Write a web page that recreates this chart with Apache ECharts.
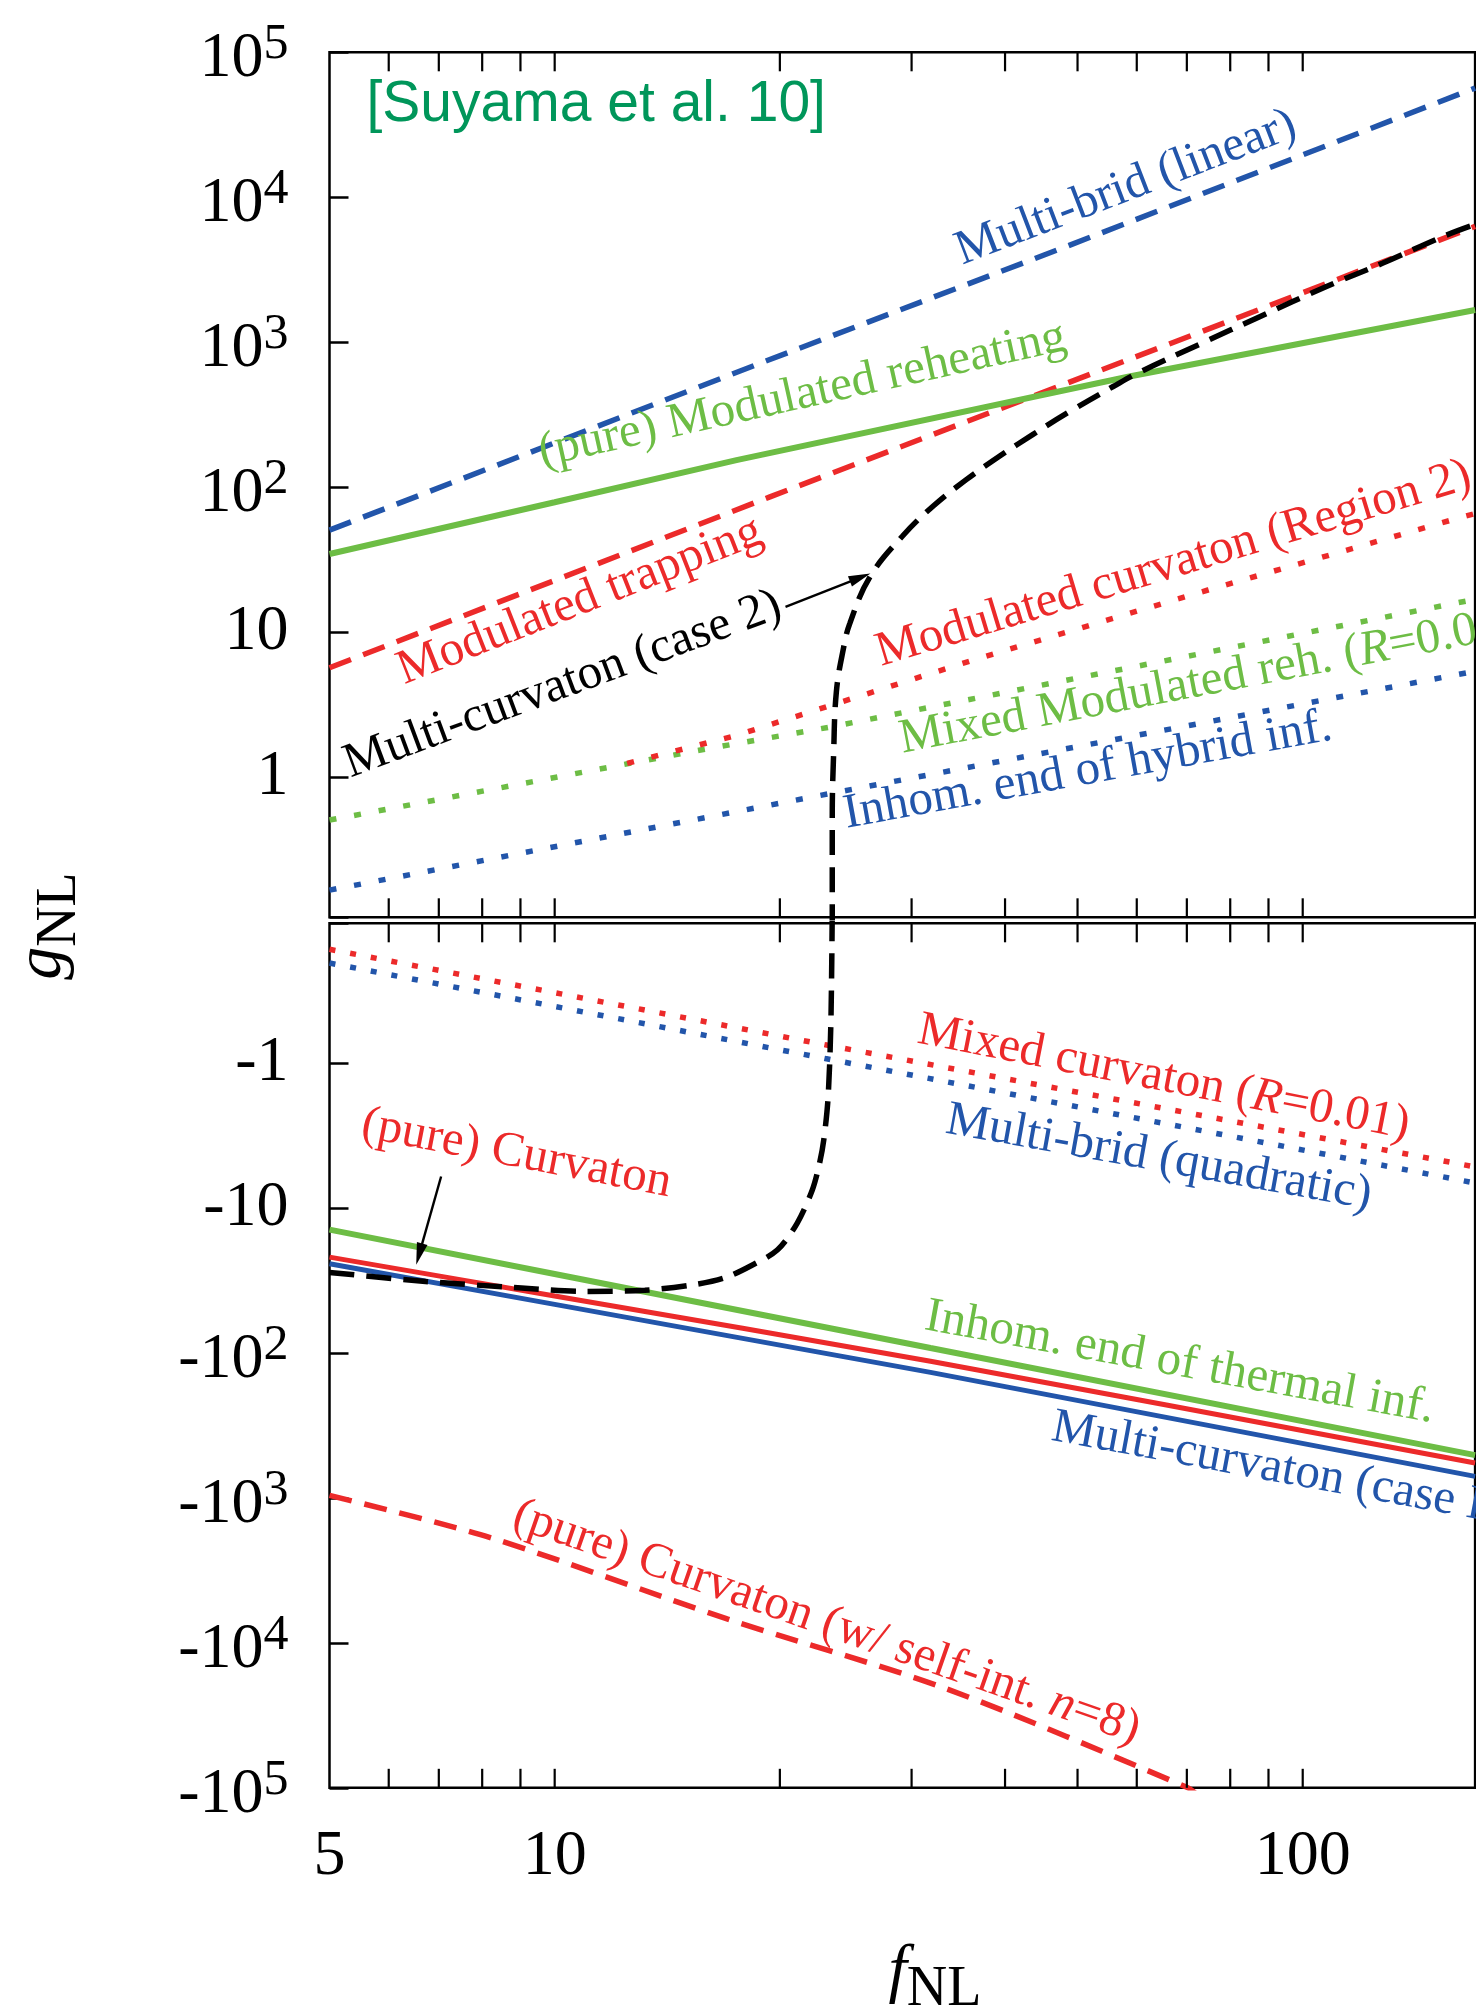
<!DOCTYPE html>
<html><head><meta charset="utf-8">
<script src="https://cdn.jsdelivr.net/npm/echarts@6/dist/echarts.min.js"></script>
<style>html,body{margin:0;padding:0;background:#fff}#chart{width:1476px;height:2016px}</style>
</head><body><div id="chart"></div>
<script>
const BLUE = '#2255aa', RED = '#ec2a2a', GREEN = '#6dbd45', BLACK = '#000000', REFGREEN = '#00965a';
const SERIF = '"Liberation Serif","Times New Roman",serif';
const SANS = '"Liberation Sans",Arial,sans-serif';

// ---------- axes ----------
const xMin = 5, xMax = 170;
const xTickLabelValues = [5, 10, 100];
const xTickLabels = ['5', '10', '100'];
const xTickMarkValues = [6, 7, 8, 9, 10, 20, 30, 40, 50, 60, 70, 80, 90, 100];
const gMin = 0.1085, gMax = 1e5;
const yTickValues = [1, 10, 100, 1000, 10000, 100000];
const upperTickLabels = ['1', '10', '10^2', '10^3', '10^4', '10^5'];
const lowerTickLabels = ['-1', '-10', '-10^2', '-10^3', '-10^4', '-10^5'];

// ---------- upper panel (gNL > 0): [fNL, gNL] ----------
const multiBridLinear = [[5, 50.7], [18.8, 716], [47.6, 4450], [170, 56700]];
const modulatedTrapping = [[5, 5.7], [19.4, 86], [85.9, 1626], [170, 6300]];
const modulatedReheating = [[5, 34.7], [10, 79], [17.5, 154], [58.4, 579], [170, 1670]];
const multiCurvatonCase2Upper = [[23.5, 0.09], [23.5, 0.54], [23.6, 1.46], [23.8, 3.9], [24.3, 7.55], [24.8, 11.5], [26.4, 24.2], [29.2, 46.4], [32.1, 74.7], [35.5, 113], [39.4, 165], [43.6, 232], [48.9, 335], [55.8, 496], [60.1, 612], [73.6, 995], [87.6, 1503], [107.4, 2416], [127.8, 3508], [154.5, 5400], [170, 6500]];
const modCurvatonRegion2 = [[12.5, 1.25], [17.5, 1.95], [36.1, 6.4], [74.7, 19.6], [163.7, 62.7], [170, 66]];
const mixedModReh = [[5, 0.508], [15.6, 1.54], [23.4, 2.23], [159, 15.8], [170, 16.9]];
const inhomHybrid = [[5, 0.167], [23.4, 0.776], [168.5, 5.35], [170, 5.4]];

// ---------- lower panel (gNL < 0): [fNL, gNL] ----------
const mixedCurvaton = [[5, -0.164], [23, -0.748], [170, -5.2]];
const multiBridQuadratic = [[5, -0.204], [23, -0.93], [170, -6.72]];
const pureCurvaton = [[5, -21.8], [10, -40.4], [31.8, -114], [170, -574]];
const inhomThermal = [[5, -14.1], [10, -28.5], [31.8, -92.4], [170, -507]];
const multiCurvatonCase1 = [[5, -24.2], [10, -46.2], [31.8, -136], [170, -710]];
const curvatonSelfInt = [[5, -960], [8.2, -1880], [17, -6840], [33.1, -20400], [70, -99000], [72, -110000]];
const multiCurvatonCase2Lower = [[5, -27.8], [6.72, -32.1], [9.03, -35.6], [10.9, -37.6], [13.2, -36.9], [15.34, -33.8], [16.85, -30.4], [18.3, -25], [19.86, -19.4], [21.1, -12.7], [22.1, -7.5], [22.6, -4.9], [22.9, -3.36], [23.2, -1.73], [23.4, -0.53], [23.5, -0.09]];

// ---------- annotations (anchored in data space) ----------
const annotations = [
  { text: 'Multi-brid (linear)', at: [58.05, 11590], panel: 0, angle: 21, color: BLUE },
  { text: '(pure) Modulated reheating', at: [21.44, 432.5], panel: 0, angle: 12.5, color: GREEN },
  { text: 'Modulated trapping', at: [10.81, 16.4], panel: 0, angle: 21.5, color: RED },
  { text: 'Multi-curvaton (case 2)', at: [10.25, 4.35], panel: 0, angle: 20.4, color: BLACK },
  { text: 'Modulated curvaton (Region 2)', at: [67.2, 29.5], panel: 0, angle: 16.8, color: RED },
  { text: 'Mixed Modulated reh. ({i|R}=0.01)', at: [74.8, 4.6], panel: 0, angle: 10.8, color: GREEN },
  { text: 'Inhom. end of hybrid inf.', at: [51.6, 1.11], panel: 0, angle: 10.3, color: BLUE },
  { text: 'Mixed curvaton ({i|R}=0.01)', at: [65.2, -1.265], panel: 1, angle: -11.1, color: RED },
  { text: 'Multi-brid (quadratic)', at: [64.2, -4.51], panel: 1, angle: -10.2, color: BLUE },
  { text: '(pure) Curvaton', at: [8.89, -4.22], panel: 1, angle: -11, color: RED },
  { text: 'Inhom. end of thermal inf.', at: [68.5, -117.2], panel: 1, angle: -10.4, color: GREEN },
  { text: 'Multi-curvaton (case I)', at: [92.0, -626], panel: 1, angle: -10.5, color: BLUE },
  { text: '(pure) Curvaton (w/ self-int. {i|n}=8)', at: [23.1, -7265], panel: 1, angle: -19.2, color: RED }
];
const arrows = [
  { from: [20.35, 15.0], to: [26.43, 25.5], panel: 0 },
  { from: [7.05, -6.06], to: [6.53, -24.6], panel: 1 }
];

// ---------- helpers ----------
const DASHED = [23, 13], DASHED_BLACK = [25, 12], DOTTED = [7, 18], DOTTED_LOW = [6, 15];
function lineSeries(name, data, panel, color, dash, width, z, smooth) {
  return {
    type: 'line', name, xAxisIndex: panel, yAxisIndex: panel,
    data: data.map(([x, g]) => [x, Math.abs(g)]),
    showSymbol: false, symbol: 'none', smooth: smooth || false, clip: true,
    lineStyle: { color, width, type: dash, cap: 'butt' },
    silent: true, animation: false, z: z || 2
  };
}
function tickSeries(p) {
  return {
    type: 'custom', xAxisIndex: p, yAxisIndex: p, silent: true, animation: false, clip: false, z: 10,
    data: xTickMarkValues.map(v => [v, 1]),
    renderItem: (params, api) => {
      const x = api.value(0);
      const a = api.coord([x, gMin]), b = api.coord([x, gMax]);
      const top = Math.min(a[1], b[1]), bot = Math.max(a[1], b[1]);
      const st = { stroke: '#000', lineWidth: 2.2 };
      return { type: 'group', children: [
        { type: 'line', shape: { x1: a[0], y1: top, x2: a[0], y2: top + 19 }, style: st },
        { type: 'line', shape: { x1: a[0], y1: bot, x2: a[0], y2: bot - 19 }, style: st }
      ] };
    }
  };
}
function toRich(s) {
  const k = s.indexOf('^');
  return k < 0 ? '{p|' + s + '}' : '{b|' + s.slice(0, k) + '}{s|' + s.slice(k + 1) + '}';
}
const labelRich = {
  p: { fontFamily: SERIF, fontSize: 64, lineHeight: 64, color: '#000' },
  b: { fontFamily: SERIF, fontSize: 64, lineHeight: 64, padding: [14, 0, 0, 0], color: '#000' },
  s: { fontFamily: SERIF, fontSize: 50, lineHeight: 34, verticalAlign: 'top', color: '#000' }
};
function yFormatter(labels) {
  return v => {
    const k = yTickValues.findIndex(t => Math.abs(t - v) / t < 1e-6);
    return k < 0 ? '' : toRich(labels[k]);
  };
}

const grids = [
  { left: 329.5, top: 52.3, width: 1145.6, height: 865 },
  { left: 329.5, top: 923.3, width: 1145.6, height: 864.5 }
].map(g => Object.assign(g, { show: true, borderColor: '#000', borderWidth: 2.5, backgroundColor: 'transparent', containLabel: false, outerBoundsMode: 'none' }));

const xAxes = [0, 1].map(i => ({
  type: 'log', logBase: 10, gridIndex: i, min: xMin, max: xMax,
  axisLine: { show: false }, axisTick: { show: false }, splitLine: { show: false }, minorTick: { show: false },
  axisLabel: i === 1 ? {
    show: true, margin: 37, fontFamily: SERIF, fontSize: 64, lineHeight: 64, color: '#000',
    showMinLabel: true, showMaxLabel: true, hideOverlap: false,
    formatter: v => { const k = xTickLabelValues.findIndex(t => Math.abs(t - v) / t < 1e-6); return k < 0 ? '' : xTickLabels[k]; }
  } : { show: false }
}));
const yAxes = [0, 1].map(i => ({
  type: 'log', logBase: 10, gridIndex: i, min: gMin, max: gMax, inverse: i === 1,
  axisLine: { show: false }, splitLine: { show: false }, minorTick: { show: false },
  axisTick: { show: true, inside: true, length: 19, lineStyle: { color: '#000', width: 2.5 } },
  axisLabel: { show: true, margin: 41, showMinLabel: true, showMaxLabel: true, hideOverlap: false,
    formatter: yFormatter(i === 0 ? upperTickLabels : lowerTickLabels), rich: labelRich }
}));

const series = [
  lineSeries('Inhom. end of hybrid inf.', inhomHybrid, 0, BLUE, DOTTED, 5.5, 2),
  lineSeries('Mixed Modulated reh.', mixedModReh, 0, GREEN, DOTTED, 5.5, 2),
  lineSeries('Modulated curvaton (Region 2)', modCurvatonRegion2, 0, RED, DOTTED, 5.5, 3),
  lineSeries('Multi-brid (linear)', multiBridLinear, 0, BLUE, DASHED, 5.5, 2),
  lineSeries('Modulated trapping', modulatedTrapping, 0, RED, DASHED, 5.5, 3),
  lineSeries('(pure) Modulated reheating', modulatedReheating, 0, GREEN, 'solid', 6, 4),
  lineSeries('Multi-curvaton (case 2)', multiCurvatonCase2Upper, 0, BLACK, DASHED_BLACK, 5.5, 5, 0.4),
  lineSeries('Mixed curvaton (R=0.01)', mixedCurvaton, 1, RED, DOTTED_LOW, 5.5, 3),
  lineSeries('Multi-brid (quadratic)', multiBridQuadratic, 1, BLUE, DOTTED_LOW, 5.5, 2),
  lineSeries('Multi-curvaton (case I)', multiCurvatonCase1, 1, BLUE, 'solid', 5, 2),
  lineSeries('(pure) Curvaton', pureCurvaton, 1, RED, 'solid', 5, 3, 0.3),
  lineSeries('Inhom. end of thermal inf.', inhomThermal, 1, GREEN, 'solid', 6, 4),
  lineSeries('(pure) Curvaton (w/ self-int. n=8)', curvatonSelfInt, 1, RED, DASHED, 5.5, 3, 0.3),
  lineSeries('Multi-curvaton (case 2) lower', multiCurvatonCase2Lower, 1, BLACK, DASHED_BLACK, 5.5, 5, 0.3),
  tickSeries(0), tickSeries(1)
];

const chart = echarts.init(document.getElementById('chart'), null, { renderer: 'canvas', width: 1476, height: 2016 });
chart.setOption({ animation: false, backgroundColor: '#fff', grid: grids, xAxis: xAxes, yAxis: yAxes, series });

// ---------- graphics: annotations, arrows, titles ----------
const gfx = [];
function annRich(color) {
  return {
    n: { fontFamily: SERIF, fontSize: 49, fill: color },
    i: { fontFamily: SERIF, fontSize: 49, fontStyle: 'italic', fill: color }
  };
}
annotations.forEach(a => {
  const p = chart.convertToPixel({ gridIndex: a.panel }, [a.at[0], Math.abs(a.at[1])]);
  gfx.push({ type: 'text', x: p[0], y: p[1], rotation: a.angle * Math.PI / 180, z: 50, silent: true,
    style: { text: a.text, rich: annRich(a.color), fill: a.color, fontFamily: SERIF, fontSize: 49,
      align: 'center', verticalAlign: 'middle', textAlign: 'center', textVerticalAlign: 'middle' } });
});
arrows.forEach(ar => {
  const p1 = chart.convertToPixel({ gridIndex: ar.panel }, [ar.from[0], Math.abs(ar.from[1])]);
  const p2 = chart.convertToPixel({ gridIndex: ar.panel }, [ar.to[0], Math.abs(ar.to[1])]);
  const dx = p2[0] - p1[0], dy = p2[1] - p1[1], L = Math.hypot(dx, dy), ux = dx / L, uy = dy / L;
  const hl = 22, hw = 5.5, bx = p2[0] - ux * hl, by = p2[1] - uy * hl;
  gfx.push({ type: 'line', z: 60, silent: true, shape: { x1: p1[0], y1: p1[1], x2: bx + ux * 4, y2: by + uy * 4 }, style: { stroke: '#000', lineWidth: 2.4 } });
  gfx.push({ type: 'polygon', z: 60, silent: true, shape: { points: [[p2[0], p2[1]], [bx - uy * hw, by + ux * hw], [bx + uy * hw, by - ux * hw]] }, style: { fill: '#000' } });
});
const titleRich = {
  i: { fontFamily: SERIF, fontSize: 66, lineHeight: 66, fontStyle: 'italic', verticalAlign: 'top', fill: '#000' },
  n: { fontFamily: SERIF, fontSize: 56, lineHeight: 56, padding: [22, 0, 0, 0], verticalAlign: 'top', fill: '#000' }
};
gfx.push({ type: 'text', x: 935, y: 1940, z: 50, silent: true,
  style: { text: '{i|f}{n|NL}', rich: titleRich, align: 'center', verticalAlign: 'top', textAlign: 'center', textVerticalAlign: 'top' } });
gfx.push({ type: 'text', x: 43, y: 926, rotation: Math.PI / 2, z: 50, silent: true,
  style: { text: '{i|g}{n|NL}', rich: titleRich, align: 'center', verticalAlign: 'middle', textAlign: 'center', textVerticalAlign: 'middle' } });
gfx.push({ type: 'text', x: 366.5, y: 105, z: 50, silent: true,
  style: { text: '[Suyama et al. 10]', fill: REFGREEN, fontFamily: SANS, fontSize: 57,
    align: 'left', verticalAlign: 'middle', textAlign: 'left', textVerticalAlign: 'middle' } });
chart.setOption({ graphic: gfx });
</script></body></html>
